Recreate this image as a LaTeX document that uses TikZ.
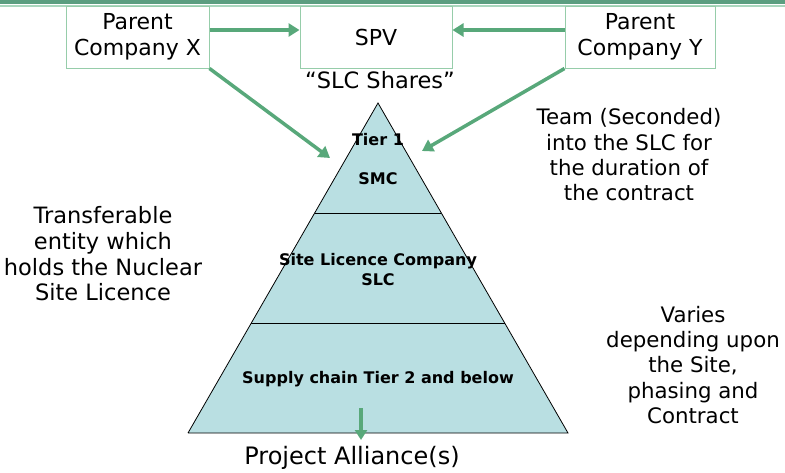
\documentclass[tikz,border=0pt]{standalone}
\usepackage{fontspec}
\setmainfont{DejaVu Sans}
\usetikzlibrary{arrows.meta,calc}
\definecolor{band}{RGB}{91,158,128}
\definecolor{bandlight}{RGB}{170,215,190}
\definecolor{boxline}{RGB}{150,205,170}
\definecolor{arr}{RGB}{88,168,122}
\definecolor{pyr}{RGB}{185,223,226}
\begin{document}
\begin{tikzpicture}[x=1pt,y=-1pt,
  box/.style={draw=boxline, line width=1pt, fill=white, minimum height=62pt, inner sep=0pt, align=center, font=\fontsize{22}{26}\selectfont},
  txt/.style={font=\fontsize{22.5}{25.7}\selectfont, align=center, inner sep=0pt},
  sidetxt/.style={font=\fontsize{21.3}{25.3}\selectfont, align=center, inner sep=0pt},
  boldtxt/.style={font=\fontsize{16}{20}\selectfont\bfseries, align=center, inner sep=0pt},
  arrow/.style={draw=arr, line width=3.5pt, -{Triangle[length=11pt,width=13pt]}}]
\useasboundingbox (0,0) rectangle (785,472);
\fill[band] (0,0) rectangle (785,4);
\fill[bandlight] (0,5) rectangle (785,6.5);
% boxes
\node[box, minimum width=143pt] (px) at (137.5,37) {Parent\\Company X};
\node[box, minimum width=152pt] (spv) at (376,37) {SPV};
\node[box, minimum width=150pt] (py) at (640,37) {Parent\\Company Y};
\node[txt] (shares) at (380,80) {“SLC Shares”};
% pyramid
\coordinate (apex) at (378,103);
\coordinate (bl) at (188,433);
\coordinate (br) at (568,433);
\fill[pyr] (apex) -- (bl) -- (br) -- cycle;
\draw[line width=0.8pt] (bl) -- (apex) -- (br) -- (bl);
\draw[line width=0.8pt] ($(apex)!1/3!(bl)$) -- ($(apex)!1/3!(br)$);
\draw[line width=0.8pt] ($(apex)!2/3!(bl)$) -- ($(apex)!2/3!(br)$);
\node[boldtxt] (tier1) at (378,140) {Tier 1};
\node[boldtxt] (smc) at (378,179) {SMC};
\node[boldtxt] (slc) at (378,270) {Site Licence Company\\SLC};
\node[boldtxt] (supply) at (378,379) {Supply chain Tier 2 and below};
% arrows
\coordinate (tipL) at (330,158);
\coordinate (tipR) at (422,151);
\draw[arrow] ([yshift=7pt]px.east) -- ([yshift=7pt]spv.west);
\draw[arrow] ([yshift=7pt]py.west) -- ([yshift=7pt]spv.east);
\draw[arrow] (px.south east) -- (tipL);
\draw[arrow] (py.south west) -- (tipR);
\coordinate (pa1) at (361,408);
\coordinate (pa2) at (361,440);
\draw[draw=arr, line width=4pt, -{Triangle[length=10pt,width=12pt]}] (pa1) -- (pa2);
\node[txt, font=\fontsize{24}{28}\selectfont] (pa) at (352,458) {Project Alliance(s)};
% side texts
\node[txt] (left) at (103,254) {Transferable\\entity which\\holds the Nuclear\\Site Licence};
\node[sidetxt] (team) at (629,155) {Team (Seconded)\\into the SLC for\\the duration of\\the contract};
\node[sidetxt] (varies) at (693,365) {Varies\\depending upon\\the Site,\\phasing and\\Contract};
\end{tikzpicture}
\end{document}
